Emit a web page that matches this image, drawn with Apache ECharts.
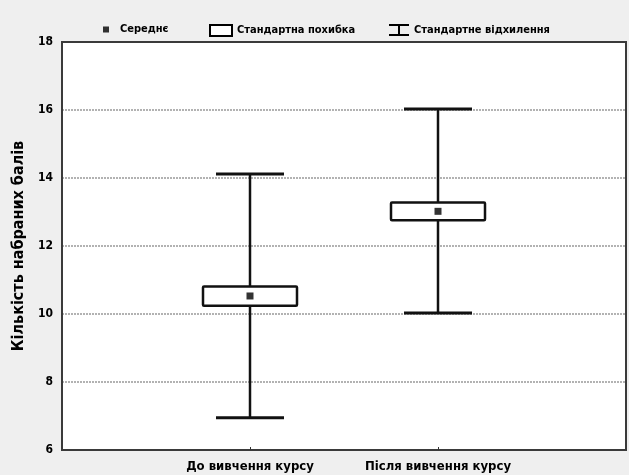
<!DOCTYPE html>
<html>
<head>
<meta charset="utf-8">
<script src="https://cdn.jsdelivr.net/npm/echarts@6/dist/echarts.min.js"></script>
<style>
html,body{margin:0;padding:0;background:#efefef;}
#c{width:629px;height:475px;}
</style>
</head>
<body>
<div id="c"></div>
<script>
// ---- data ----
var categories = ['До вивчення курсу', 'Після вивчення курсу'];
var means = [10.53, 13.02];
var seLow = [10.24, 12.76];
var seHigh = [10.81, 13.28];
var sdLow = [6.95, 10.03];
var sdHigh = [14.12, 16.03];
var yTicks = [6, 8, 10, 12, 14, 16, 18];

var FONT = "'Liberation Sans Narrow', 'DejaVu Sans Condensed', 'Liberation Sans', sans-serif";
var axisCats = [''].concat(categories).concat(['']);

var sdData = categories.map(function (c, i) { return [i + 1, sdLow[i], sdHigh[i]]; });
var seData = categories.map(function (c, i) { return [i + 1, seLow[i], seHigh[i]]; });
var meanData = categories.map(function (c, i) { return [i + 1, means[i]]; });

var chart = echarts.init(document.getElementById('c'), null, {renderer: 'canvas'});
chart.setOption({
  backgroundColor: '#efefef',
  animation: false,
  textStyle: {fontFamily: FONT},
  legend: [
    {
      left: 98, top: 19, itemWidth: 6, itemHeight: 6,
      textStyle: {fontFamily: FONT, fontWeight: 'bold', fontSize: 11, color: '#000', padding: [0, 0, 0, 6]},
      data: [{name: 'Середнє', icon: 'rect', itemStyle: {color: '#000'}}]
    },
    {
      left: 204, top: 19, itemWidth: 22, itemHeight: 11,
      textStyle: {fontFamily: FONT, fontWeight: 'bold', fontSize: 11, color: '#000'},
      data: [{name: 'Стандартна похибка', icon: 'rect', itemStyle: {color: '#fff', borderColor: '#000', borderWidth: 2}}]
    },
    {
      left: 384, top: 19, itemWidth: 20, itemHeight: 12,
      textStyle: {fontFamily: FONT, fontWeight: 'bold', fontSize: 11, color: '#000'},
      data: [{name: 'Стандартне відхилення', icon: 'path://M0,0H20V2H11V10H20V12H0V10H9V2H0Z', itemStyle: {color: '#000'}}]
    }
  ],
  grid: {
    left: 62, right: 2, top: 42, bottom: 25,
    show: true, backgroundColor: '#fff', borderColor: '#3a3a3a', borderWidth: 2
  },
  xAxis: {
    type: 'category',
    data: axisCats,
    boundaryGap: false,
    axisLine: {lineStyle: {color: '#3a3a3a', width: 2}},
    axisTick: {show: true, inside: true, length: 3, lineStyle: {color: '#333'},
      interval: function (idx) { return idx > 0 && idx < axisCats.length - 1; }},
    axisLabel: {interval: 0, fontFamily: FONT, fontWeight: 'bold', fontSize: 13, color: '#000', margin: 10},
    splitLine: {show: false}
  },
  yAxis: {
    type: 'value',
    min: yTicks[0], max: yTicks[yTicks.length - 1], interval: 2,
    name: 'Кількість набраних балів',
    nameLocation: 'middle', nameGap: 35,
    nameTextStyle: {fontFamily: FONT, fontWeight: 'bold', fontSize: 16, color: '#000'},
    axisLine: {show: true, lineStyle: {color: '#3a3a3a', width: 2}},
    axisTick: {show: false},
    axisLabel: {fontFamily: FONT, fontWeight: 'bold', fontSize: 12, color: '#000', margin: 9},
    splitLine: {show: true, showMinLine: false, showMaxLine: false,
      lineStyle: {color: '#999', type: [2, 1], width: 1.5}}
  },
  series: [
    {
      name: 'Стандартне відхилення',
      type: 'custom',
      data: sdData,
      z: 2,
      renderItem: function (params, api) {
        var x = api.value(0);
        var lo = api.coord([x, api.value(1)]);
        var hi = api.coord([x, api.value(2)]);
        var half = 34;
        return {
          type: 'group',
          children: [
            {type: 'line', shape: {x1: lo[0], y1: lo[1], x2: hi[0], y2: hi[1]}, style: {stroke: '#111', lineWidth: 2.5}},
            {type: 'line', shape: {x1: lo[0] - half, y1: lo[1], x2: lo[0] + half, y2: lo[1]}, style: {stroke: '#111', lineWidth: 3}},
            {type: 'line', shape: {x1: hi[0] - half, y1: hi[1], x2: hi[0] + half, y2: hi[1]}, style: {stroke: '#111', lineWidth: 3}}
          ]
        };
      }
    },
    {
      name: 'Стандартна похибка',
      type: 'custom',
      data: seData,
      z: 3,
      renderItem: function (params, api) {
        var x = api.value(0);
        var lo = api.coord([x, api.value(1)]);
        var hi = api.coord([x, api.value(2)]);
        var half = 47;
        return {
          type: 'rect',
          shape: {x: lo[0] - half, y: hi[1], width: half * 2, height: lo[1] - hi[1], r: 1},
          style: {fill: '#fff', stroke: '#111', lineWidth: 2.5}
        };
      }
    },
    {
      name: 'Середнє',
      type: 'scatter',
      data: meanData,
      symbol: 'rect',
      symbolSize: 7,
      z: 4,
      itemStyle: {color: '#000'}
    }
  ]
});
</script>
</body>
</html>
